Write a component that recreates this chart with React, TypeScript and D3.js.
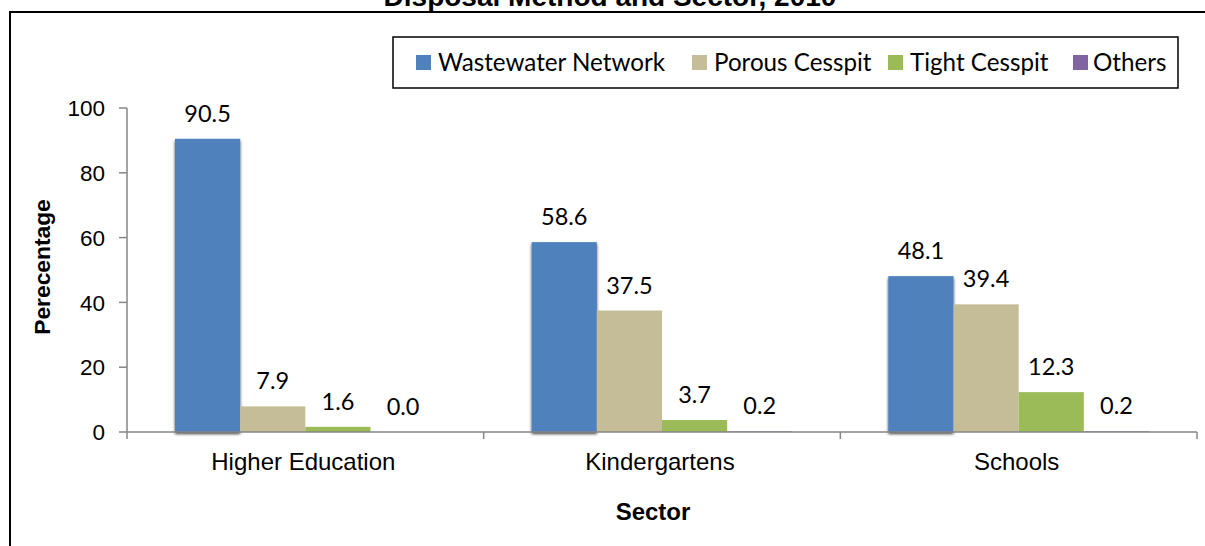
import React from "react";
import * as d3 from "d3";

const categories = ["Higher Education", "Kindergartens", "Schools"];
const seriesNames = ["Wastewater Network", "Porous Cesspit", "Tight Cesspit", "Others"];
const wastewater = [90.5, 58.6, 48.1];
const porous = [7.9, 37.5, 39.4];
const tight = [1.6, 3.7, 12.3];
const others = [0.0, 0.2, 0.2];
const seriesValues = [wastewater, porous, tight, others];
const yTicks = [0, 20, 40, 60, 80, 100];
const colors = ["#4F81BD", "#C4BD97", "#9BBB59", "#8064A2"];

const W = 1205;
const H = 546;
const plot = { left: 127, right: 1197, top: 108, bottom: 432 };
const groupGap = 48;
const legendBox = { x: 393, y: 37, w: 785, h: 51 };
const legendSwatchX = [416, 692, 888, 1073];
const legendTextX = [438, 714, 910, 1093];

const ARIAL = "'Liberation Sans', Arial, sans-serif";
const CAL = "Lato, 'Open Sans', sans-serif";

export default function App() {
  const x0 = d3.scaleBand<string>().domain(categories).range([plot.left, plot.right]).padding(0);
  const x1 = d3
    .scaleBand<string>()
    .domain(seriesNames)
    .range([groupGap, x0.bandwidth() - groupGap])
    .padding(0);
  const y = d3.scaleLinear().domain([0, 100]).range([plot.bottom, plot.top]);
  const fmt = d3.format(".1f");
  const boundaries = [...categories.map((c) => x0(c) as number), plot.right];

  return (
    <svg
      width={W}
      height={H}
      viewBox={`0 0 ${W} ${H}`}
      style={{ position: "absolute", left: 0, top: 0, display: "block", background: "#fff" }}
    >
      <defs>
        <filter id="shadow" x="-30%" y="-10%" width="160%" height="130%">
          <feDropShadow dx="0" dy="2" stdDeviation="1.8" floodColor="#000" floodOpacity="0.75" />
        </filter>
      </defs>
      <rect x={0} y={0} width={W} height={H} fill="#fff" />
      {/* title (clipped at top as in the reference) */}
      <text
        x={610}
        y={6}
        textAnchor="middle"
        fontFamily={ARIAL}
        fontWeight="bold"
        fontSize={28}
        fill="#000"
      >
        Disposal Method and Sector, 2010
      </text>
      {/* outer border */}
      <rect x={10} y={12} width={1400} height={800} fill="none" stroke="#000" strokeWidth={2} />

      {/* legend */}
      <rect
        x={legendBox.x}
        y={legendBox.y}
        width={legendBox.w}
        height={legendBox.h}
        fill="#fff"
        stroke="#000"
        strokeWidth={1.5}
      />
      {seriesNames.map((s, i) => (
        <g key={s}>
          <rect x={legendSwatchX[i]} y={55} width={15} height={15} fill={colors[i]} />
          <text x={legendTextX[i]} y={71} fontFamily={CAL} fontSize={24.2} fill="#000">
            {s}
          </text>
        </g>
      ))}

      {/* y axis */}
      <line x1={plot.left} x2={plot.left} y1={plot.top} y2={plot.bottom} stroke="#868686" strokeWidth={1.5} />
      {yTicks.map((t) => (
        <g key={t}>
          <line x1={plot.left - 8} x2={plot.left} y1={y(t)} y2={y(t)} stroke="#868686" strokeWidth={1.5} />
          <text
            x={plot.left - 22}
            y={y(t)}
            dy="0.36em"
            textAnchor="end"
            fontFamily={ARIAL}
            fontSize={22.5}
            fill="#000"
          >
            {t}
          </text>
        </g>
      ))}

      {/* bars */}
      {categories.map((c, ci) => (
        <g key={c} transform={`translate(${x0(c)},0)`}>
          {seriesNames.map((s, si) => {
            const v = seriesValues[si][ci];
            const bx = x1(s) as number;
            const bw = x1.bandwidth();
            return (
              <rect
                key={s}
                x={bx}
                y={y(v)}
                width={bw}
                height={plot.bottom - y(v)}
                fill={colors[si]}
                filter={si === 0 ? "url(#shadow)" : undefined}
              />
            );
          })}
        </g>
      ))}

      {/* x axis */}
      <line x1={plot.left} x2={plot.right} y1={plot.bottom} y2={plot.bottom} stroke="#868686" strokeWidth={1.5} />
      {boundaries.map((b, i) => (
        <line key={i} x1={b} x2={b} y1={plot.bottom} y2={plot.bottom + 7} stroke="#868686" strokeWidth={1.5} />
      ))}

      {/* value labels */}
      {categories.map((c, ci) => (
        <g key={c} transform={`translate(${x0(c)},0)`}>
          {seriesNames.map((s, si) => {
            const v = seriesValues[si][ci];
            const cx = (x1(s) as number) + x1.bandwidth() / 2;
            return (
              <text
                key={s}
                x={cx}
                y={y(v) - 17}
                textAnchor="middle"
                fontFamily={CAL}
                fontSize={23.5}
                fill="#000"
              >
                {fmt(v)}
              </text>
            );
          })}
        </g>
      ))}

      {/* category labels */}
      {categories.map((c) => (
        <text
          key={c}
          x={(x0(c) as number) + x0.bandwidth() / 2 - 2}
          y={470}
          textAnchor="middle"
          fontFamily={ARIAL}
          fontSize={24}
          fill="#000"
        >
          {c}
        </text>
      ))}

      {/* axis titles */}
      <text x={653} y={520} textAnchor="middle" fontFamily={ARIAL} fontWeight="bold" fontSize={24} fill="#000">
        Sector
      </text>
      <text
        transform={`translate(49.5,${(plot.top + plot.bottom) / 2 - 3}) rotate(-90)`}
        textAnchor="middle"
        fontFamily={ARIAL}
        fontWeight="bold"
        fontSize={22.8}
        fill="#000"
      >
        Perecentage
      </text>
    </svg>
  );
}
